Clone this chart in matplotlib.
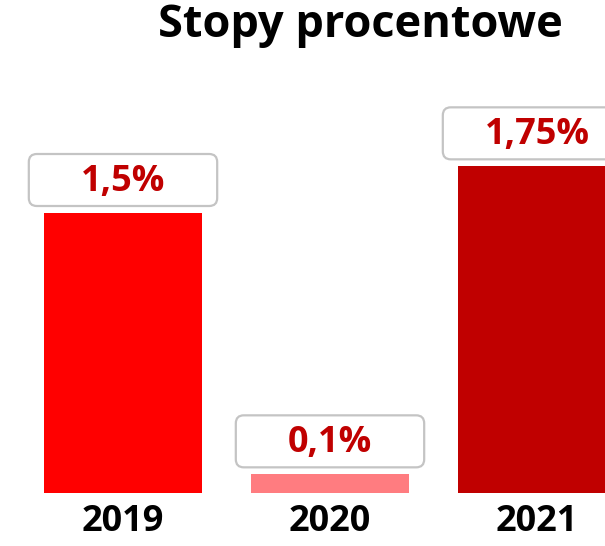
import numpy as np
import matplotlib
matplotlib.use("Agg")
import matplotlib.pyplot as plt
from matplotlib.patches import FancyBboxPatch

# data
years  = ["2019", "2020", "2021"]
rates  = [1.5, 0.1, 1.75]
labels = ["1,5%", "0,1%", "1,75%"]
colors = ["#FF0000", "#FF7C80", "#C00000"]

plt.rcParams["font.family"] = ["Open Sans", "DejaVu Sans"]

fig = plt.figure(figsize=(6.05, 5.46), dpi=100)
ax = fig.add_axes([0, 53/546, 1, 493/546])

x = np.arange(len(years))
ax.bar(x, rates, width=0.765, color=colors)
ax.set_xlim(-123/207, (605-123)/207)
ax.set_ylim(0, 493/(280/1.5))

ax.set_xticks(x, years)
ax.tick_params(axis="x", length=0, pad=8, labelsize=26)
for t in ax.get_xticklabels():
    t.set_fontweight("bold")
ax.set_yticks([])
for s in ax.spines.values():
    s.set_visible(False)

# value labels in rounded boxes, placed above each bar (pixel offsets)
for xi, v, lab in zip(x, rates, labels):
    cx, ty = ax.transData.transform((xi, v))
    lx, _ = ax.transData.transform((xi - 0.455, v))
    w = 2*(cx - lx)
    h = 52
    cy = ty + 33
    box = FancyBboxPatch((cx - w/2, cy - h/2), w, h,
                         boxstyle="round,pad=0,rounding_size=8",
                         facecolor="white", edgecolor="#C4C4C4",
                         linewidth=1.6, transform=None, clip_on=False)
    fig.patches.append(box)
    fig.text(cx/605, (cy - 2)/546, lab, ha="center", va="center",
             fontsize=26, fontweight="bold", color="#C00000")

fig.text(360/605, 1 - 37/546, "Stopy procentowe", ha="center", va="baseline",
         fontsize=32.5, fontweight="bold", color="black")

fig.savefig("out.png", dpi=100)
